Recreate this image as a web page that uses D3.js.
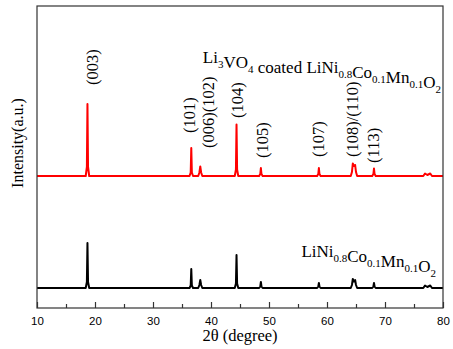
<!DOCTYPE html>
<html lang="en">
<head>
    <meta charset="UTF-8">
    <title>XRD</title>
    <script src="https://cdn.jsdelivr.net/npm/d3@7/dist/d3.min.js"></script>
    <style>
        body { margin: 0; background: #fff; }
        #chart { width: 453px; height: 349px; }
        .serif { font-family: "Liberation Serif", "Times New Roman", serif; }
        .tick text { font-family: "Liberation Sans", Arial, sans-serif; font-size: 11.5px; }
    </style>
</head>
<body>
<div id="chart"></div>
<script>
    // 2θ range and x tick labels
    var xTicks = [10, 20, 30, 40, 50, 60, 70, 80];
    var xMinorTicks = [15, 25, 35, 45, 55, 65, 75];

    // measured points [2θ, intensity a.u.] above each pattern's own baseline
    var pristinePoints = [
        [10, 0], [18.4, 0], [18.6, 60], [18.7, 450], [18.8, 60], [19.0, 0],
        [36.3, 0], [36.5, 25], [36.6, 190], [36.7, 25], [36.9, 0],
        [37.8, 0], [38.0, 30], [38.15, 80], [38.3, 30], [38.5, 0],
        [44.1, 0], [44.3, 45], [44.4, 330], [44.5, 45], [44.7, 0],
        [48.3, 0], [48.5, 15], [48.6, 60], [48.7, 15], [48.9, 0],
        [58.3, 0], [58.5, 15], [58.6, 50], [58.7, 15], [58.9, 0],
        [64.1, 0], [64.3, 30], [64.45, 90], [64.65, 65], [64.85, 80], [65.0, 30], [65.2, 0],
        [67.8, 0], [68.0, 15], [68.1, 50], [68.2, 15], [68.4, 0],
        [76.6, 0], [76.9, 25], [77.3, 10], [77.8, 25], [78.1, 0], [80, 0]
    ];
    var coatedPoints = [
        [10, 0], [18.4, 0], [18.6, 90], [18.7, 720], [18.8, 90], [19.0, 0],
        [36.3, 0], [36.5, 35], [36.6, 280], [36.7, 35], [36.9, 0],
        [37.8, 0], [38.0, 35], [38.15, 95], [38.3, 35], [38.5, 0],
        [44.1, 0], [44.3, 65], [44.4, 515], [44.5, 65], [44.7, 0],
        [48.3, 0], [48.5, 20], [48.6, 80], [48.7, 20], [48.9, 0],
        [58.3, 0], [58.5, 20], [58.6, 80], [58.7, 20], [58.9, 0],
        [64.1, 0], [64.3, 40], [64.45, 125], [64.65, 100], [64.85, 110], [65.0, 40], [65.2, 0],
        [67.8, 0], [68.0, 20], [68.1, 75], [68.2, 20], [68.4, 0],
        [76.6, 0], [76.9, 25], [77.3, 10], [77.8, 25], [78.1, 0], [80, 0]
    ];
    var pristineOffset = 200;
    var coatedOffset = 1320;

    // (hkl) labels: 2θ where drawn, and intensity where the text starts
    var hklNames = ["(003)", "(101)", "(006)(102)", "(104)", "(105)", "(107)", "(108)/(110)", "(113)"];
    var hklTheta = [19.5, 36.2, 39.6, 44.6, 48.8, 58.4, 64.4, 68.0];
    var hklLevel = [2230, 1750, 1600, 1900, 1500, 1510, 1510, 1450];

    var width = 453, height = 349;
    var margin = {left: 37, right: 10, top: 6, bottom: 41};

    var svg = d3.select("#chart").append("svg")
        .attr("width", width)
        .attr("height", height);

    var x = d3.scaleLinear().domain([10, 80]).range([margin.left, width - margin.right]);
    var y = d3.scaleLinear().domain([0, 3020]).range([height - margin.bottom, margin.top]);

    var line = d3.line()
        .x(function (d) { return x(d[0]); })
        .y(function (d) { return y(d[1]); });

    // patterns
    svg.append("path")
        .attr("d", line(coatedPoints.map(function (d) { return [d[0], d[1] + coatedOffset]; })))
        .attr("fill", "none")
        .attr("stroke", "#ff0000")
        .attr("stroke-width", 2)
        .attr("stroke-linejoin", "round");
    svg.append("path")
        .attr("d", line(pristinePoints.map(function (d) { return [d[0], d[1] + pristineOffset]; })))
        .attr("fill", "none")
        .attr("stroke", "#000")
        .attr("stroke-width", 2)
        .attr("stroke-linejoin", "round");

    // frame
    svg.append("rect")
        .attr("x", margin.left)
        .attr("y", margin.top)
        .attr("width", width - margin.left - margin.right)
        .attr("height", height - margin.top - margin.bottom)
        .attr("fill", "none")
        .attr("stroke", "#333")
        .attr("stroke-width", 1.2);

    // x axis, ticks inside
    var gx = svg.append("g")
        .attr("transform", "translate(0," + (height - margin.bottom) + ")")
        .call(d3.axisBottom(x).tickValues(xTicks).tickSize(-6).tickPadding(9).tickFormat(d3.format("d")));
    gx.select(".domain").remove();
    gx.selectAll(".tick line").attr("stroke", "#333").attr("stroke-width", 1.2);
    gx.selectAll(".tick text").attr("fill", "#000");
    svg.append("g")
        .attr("transform", "translate(0," + (height - margin.bottom) + ")")
        .call(d3.axisBottom(x).tickValues(xMinorTicks).tickSize(-4).tickFormat(""))
        .call(function (g) {
            g.select(".domain").remove();
            g.selectAll(".tick line").attr("stroke", "#333").attr("stroke-width", 1.2);
        });

    // axis titles
    svg.append("text")
        .attr("class", "serif")
        .attr("x", (margin.left + width - margin.right) / 2)
        .attr("y", 341)
        .attr("text-anchor", "middle")
        .attr("font-size", 16.5)
        .text("2θ (degree)");
    svg.append("text")
        .attr("class", "serif")
        .attr("transform", "translate(17,143) rotate(-90)")
        .attr("dy", "0.35em")
        .attr("text-anchor", "middle")
        .attr("font-size", 16)
        .text("Intensity(a.u.)");

    // hkl labels
    svg.selectAll(".hkl")
        .data(hklNames)
        .enter()
        .append("text")
        .attr("class", "hkl serif")
        .attr("transform", function (d, i) {
            return "translate(" + x(hklTheta[i]) + "," + y(hklLevel[i]) + ") rotate(-90)";
        })
        .attr("dy", "0.35em")
        .attr("font-size", 16.5)
        .text(function (d) { return d; });

    // sample names with subscripts
    function formula(parts, xr, yb) {
        var t = svg.append("text")
            .attr("class", "serif")
            .attr("x", xr)
            .attr("y", yb)
            .attr("text-anchor", "end")
            .attr("font-size", 17);
        parts.forEach(function (p) {
            if (p[1]) {
                t.append("tspan").attr("dy", 5).attr("font-size", 11).text(p[0]);
                t.append("tspan").attr("dy", -5).text("");
            } else {
                t.append("tspan").text(p[0]);
            }
        });
    }
    var nmc = [["LiNi", 0], ["0.8", 1], ["Co", 0], ["0.1", 1], ["Mn", 0], ["0.1", 1], ["O", 0], ["2", 1]];
    formula([["Li", 0], ["3", 1], ["VO", 0], ["4", 1], [" coated ", 0]].concat(nmc), 441, 63);
    formula(nmc, 436, 257);
</script>
</body>
</html>
